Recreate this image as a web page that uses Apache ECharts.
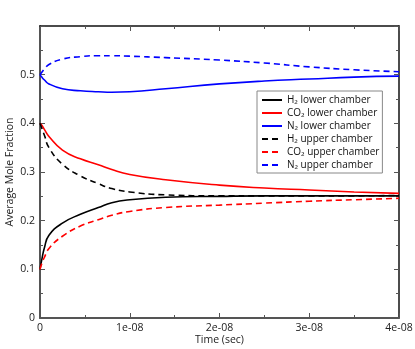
<!DOCTYPE html>
<html>
<head>
<meta charset="utf-8">
<script src="https://cdn.jsdelivr.net/npm/echarts@6/dist/echarts.min.js"></script>
<style>
  html, body { margin: 0; padding: 0; background: #fff; }
  #chart { width: 415px; height: 349px; }
</style>
</head>
<body>
<div id="chart"></div>
<script>
// time (sec)
var times = [0, 2e-10, 5e-10, 1e-9, 2.5e-9, 4.5e-9, 6.5e-9, 8e-9, 1e-8, 1.4e-8, 2e-8, 2.5e-8, 3e-8, 3.5e-8, 4e-8];

var h2Lower  = [0.100, 0.120, 0.145, 0.170, 0.195, 0.213, 0.227, 0.237, 0.243, 0.248, 0.250, 0.251, 0.251, 0.251, 0.251];
var co2Lower = [0.400, 0.396, 0.387, 0.373, 0.345, 0.327, 0.315, 0.305, 0.295, 0.284, 0.273, 0.267, 0.263, 0.259, 0.256];
var n2Lower  = [0.500, 0.495, 0.489, 0.481, 0.471, 0.467, 0.465, 0.464, 0.465, 0.471, 0.481, 0.487, 0.491, 0.495, 0.497];
var h2Upper  = [0.400, 0.390, 0.375, 0.350, 0.316, 0.292, 0.276, 0.266, 0.259, 0.253, 0.251, 0.251, 0.251, 0.251, 0.252];
var co2Upper = [0.100, 0.112, 0.125, 0.143, 0.168, 0.189, 0.202, 0.211, 0.219, 0.227, 0.232, 0.236, 0.240, 0.243, 0.246];
var n2Upper  = [0.500, 0.505, 0.512, 0.521, 0.532, 0.537, 0.539, 0.539, 0.538, 0.535, 0.530, 0.524, 0.516, 0.510, 0.506];

var xTickLabels = ["0", "1e-08", "2e-08", "3e-08", "4e-08"];
var yTickLabels = ["0", "0.1", "0.2", "0.3", "0.4", "0.5", ""];

var seriesNames = [
  "H\u2082 lower chamber",
  "CO\u2082 lower chamber",
  "N\u2082 lower chamber",
  "H\u2082 upper chamber",
  "CO\u2082 upper chamber",
  "N\u2082 upper chamber"
];
var seriesData = [h2Lower, co2Lower, n2Lower, h2Upper, co2Upper, n2Upper];
var seriesColors = ["#000000", "#ff0000", "#0000ff", "#000000", "#ff0000", "#0000ff"];
var seriesDashed = [false, false, false, true, true, true];

var chart = echarts.init(document.getElementById("chart"));

function pairs(vals) {
  return times.map(function (t, i) { return [t, vals[i]]; });
}

var font = "'Open Sans', sans-serif";

function axisCommon(extra) {
  var base = {
    type: "value",
    axisLine: { show: true, onZero: false, lineStyle: { color: "#555", width: 2 } },
    axisTick: { show: true, inside: true, length: 5, lineStyle: { color: "#555", width: 1 } },
    minorTick: { show: true, splitNumber: 2, length: 3, lineStyle: { color: "#555" } },
    splitLine: { show: false },
    minorSplitLine: { show: false }
  };
  return Object.assign(base, extra);
}

var series = seriesNames.map(function (name, i) {
  return {
    name: name,
    type: "line",
    data: pairs(seriesData[i]),
    smooth: true,
    symbol: "none",
    xAxisIndex: 0,
    yAxisIndex: 0,
    lineStyle: {
      color: seriesColors[i],
      width: 1.6,
      type: seriesDashed[i] ? [6, 4] : "solid"
    },
    itemStyle: { color: seriesColors[i] }
  };
});

var option = {
  animation: false,
  textStyle: { fontFamily: font },
  grid: { left: 40, right: 16, top: 26, bottom: 31, outerBoundsMode: "none", containLabel: false },
  legend: {
    orient: "vertical",
    left: 257,
    top: 91,
    data: seriesNames,
    itemWidth: 20,
    itemHeight: 8,
    itemGap: 3,
    padding: [4, 3, 3, 4],
    borderColor: "#888",
    borderWidth: 1,
    itemStyle: { opacity: 0 },
    textStyle: { fontSize: 10, lineHeight: 10, color: "#111", fontFamily: font }
  },
  xAxis: [
    axisCommon({
      min: 0, max: 4e-8, interval: 1e-8,
      position: "bottom",
      name: "Time (sec)",
      nameLocation: "middle",
      nameGap: 17,
      nameMoveOverlap: false,
      nameTextStyle: { fontSize: 10.5, color: "#222", fontFamily: font },
      axisLabel: {
        fontSize: 10.5, color: "#222", margin: 5,
        formatter: function (v) { return xTickLabels[Math.round(v / 1e-8)]; }
      }
    }),
    axisCommon({
      min: 0, max: 4e-8, interval: 1e-8,
      position: "top",
      axisLine: { show: true, onZero: false, lineStyle: { color: "#111", width: 1.5 } },
      axisLabel: { show: false }
    })
  ],
  yAxis: [
    axisCommon({
      min: 0, max: 0.6, interval: 0.1,
      position: "left",
      name: "Average Mole Fraction",
      nameLocation: "middle",
      nameGap: 24,
      nameMoveOverlap: false,
      nameTextStyle: { fontSize: 10.5, color: "#222", fontFamily: font },
      axisLabel: {
        fontSize: 10.5, color: "#222", margin: 5,
        formatter: function (v) { return yTickLabels[Math.round(v * 10)]; }
      }
    }),
    axisCommon({
      min: 0, max: 0.6, interval: 0.1,
      position: "right",
      axisLine: { show: true, onZero: false, lineStyle: { color: "#111", width: 1.5 } },
      axisLabel: { show: false }
    })
  ],
  series: series
};

chart.setOption(option);
</script>
</body>
</html>
